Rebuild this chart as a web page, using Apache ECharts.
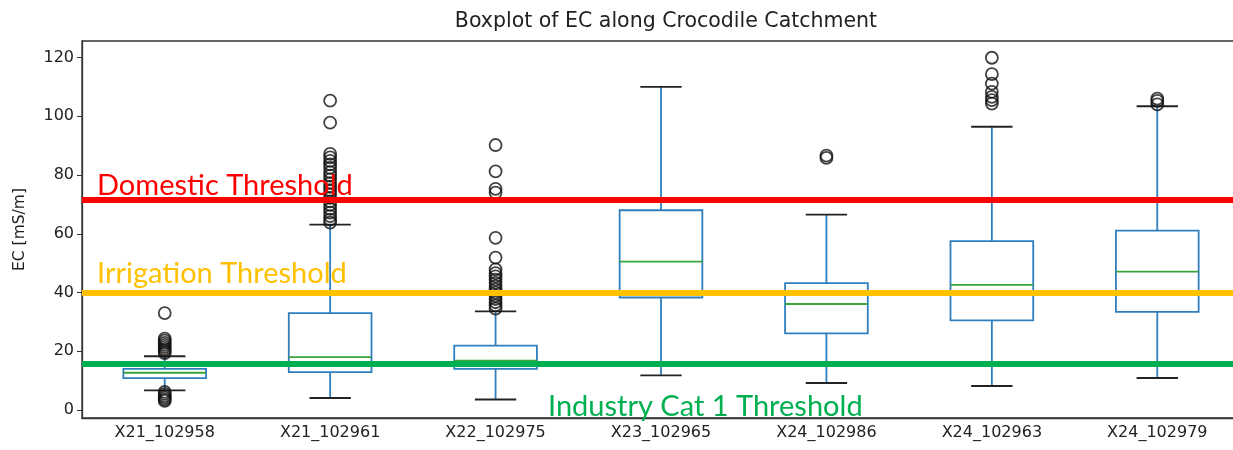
<!DOCTYPE html>
<html>
<head>
<meta charset="utf-8">
<script src="https://cdn.jsdelivr.net/npm/echarts@6/dist/echarts.min.js"></script>
<style>
  html, body { margin: 0; padding: 0; background: #fff; overflow: hidden; }
  /* the plot frame runs a few pixels past the right edge of the picture */
  #main { width: 1240px; height: 450px; }
</style>
</head>
<body>
<div id="main"></div>
<script>
// stations along the catchment
var categories = ['X21_102958', 'X21_102961', 'X22_102975', 'X23_102965', 'X24_102986', 'X24_102963', 'X24_102979'];

// box statistics (mS/m)
var whiskerLow  = [6.7,  4.1,  3.6,  11.8, 9.2,  8.2,  10.9];
var q1          = [10.9, 12.9, 14.0, 38.3, 26.1, 30.5, 33.4];
var median      = [12.7, 18.0, 16.8, 50.5, 36.1, 42.6, 47.1];
var q3          = [14.0, 33.0, 21.9, 68.0, 43.2, 57.5, 61.1];
var whiskerHigh = [18.3, 63.1, 33.6, 110.0, 66.5, 96.4, 103.4];

// fliers per station
var outliers = [
  [33.0, 24.3, 23.6, 22.9, 22.2, 21.5, 20.8, 20.1, 19.4, 6.2, 5.5, 4.8, 4.2, 3.6, 3.1],
  [105.3, 97.8, 87.2, 86.0, 84.8, 83.6, 82.4, 81.0, 79.8, 78.5, 77.2, 76.0, 74.8, 73.5, 72.2, 71.0, 69.8, 68.5, 67.2, 66.0, 64.8, 63.8],
  [90.2, 81.2, 75.3, 74.0, 58.6, 51.9, 47.9, 46.6, 45.5, 44.4, 43.3, 42.2, 41.1, 40.0, 38.9, 37.8, 36.7, 35.6, 34.5],
  [],
  [86.6, 85.8],
  [119.9, 114.3, 111.1, 108.3, 106.6, 105.5, 104.3],
  [106.0, 105.2, 104.0]
];

// threshold overlays
var thresholdNames  = ['Domestic Threshold', 'Irrigation Threshold', 'Industry Cat 1 Threshold'];
var thresholdValues = [71.6, 40.0, 15.7];
var thresholdColors = ['#FF0000', '#FFC000', '#00B050'];

var yTicks = [0, 20, 40, 60, 80, 100, 120];

var boxData = categories.map(function (c, i) {
  return [i, whiskerLow[i], q1[i], median[i], q3[i], whiskerHigh[i]];
});

var flierData = [];
outliers.forEach(function (list, i) {
  list.forEach(function (v) { flierData.push([i, v]); });
});

var blue = '#2f7fbf', green = '#3aa53a', dark = '#222';

function renderBox(params, api) {
  var idx = api.value(0);
  var band = api.size([1, 0])[0];
  var half = band * 0.25, capHalf = band * 0.125;
  var lo = api.coord([idx, api.value(1)]);
  var b1 = api.coord([idx, api.value(2)]);
  var md = api.coord([idx, api.value(3)]);
  var b3 = api.coord([idx, api.value(4)]);
  var hi = api.coord([idx, api.value(5)]);
  var x = lo[0];
  var blueStyle = { stroke: blue, lineWidth: 1.8, fill: null };
  var capStyle = { stroke: dark, lineWidth: 1.9 };
  return {
    type: 'group',
    children: [
      { type: 'line', shape: { x1: x, y1: b1[1], x2: x, y2: lo[1] }, style: blueStyle },
      { type: 'line', shape: { x1: x, y1: b3[1], x2: x, y2: hi[1] }, style: blueStyle },
      { type: 'rect', shape: { x: x - half, y: b3[1], width: half * 2, height: b1[1] - b3[1] }, style: blueStyle },
      { type: 'line', shape: { x1: x - half, y1: md[1], x2: x + half, y2: md[1] }, style: { stroke: green, lineWidth: 1.8 } },
      { type: 'line', shape: { x1: x - capHalf, y1: lo[1], x2: x + capHalf, y2: lo[1] }, style: capStyle },
      { type: 'line', shape: { x1: x - capHalf, y1: hi[1], x2: x + capHalf, y2: hi[1] }, style: capStyle }
    ]
  };
}

var chart = echarts.init(document.getElementById('main'), null, { renderer: 'canvas' });

var option = {
  animation: false,
  backgroundColor: '#fff',
  title: {
    text: 'Boxplot of EC along Crocodile Catchment',
    left: 661,
    textAlign: 'center',
    top: 6,
    textStyle: { fontFamily: 'DejaVu Sans', fontSize: 20.5, fontWeight: 'normal', color: dark }
  },
  grid: {
    left: 82, top: 41, bottom: 32, right: 0,
    show: true, borderColor: '#333', borderWidth: 1.3, backgroundColor: 'transparent'
  },
  xAxis: {
    type: 'category',
    data: categories,
    boundaryGap: true,
    axisLine: { onZero: false, lineStyle: { color: '#333', width: 1.3 } },
    axisTick: { alignWithLabel: true, length: 5, lineStyle: { color: '#333' } },
    axisLabel: { fontFamily: 'DejaVu Sans', fontSize: 16, color: dark, margin: 7 },
    splitLine: { show: false }
  },
  yAxis: {
    type: 'value',
    min: -2.7,
    max: 125.6,
    name: 'EC [mS/m]',
    nameLocation: 'middle',
    nameGap: 54,
    nameTextStyle: { fontFamily: 'DejaVu Sans', fontSize: 15.5, color: dark },
    axisLine: { show: true, onZero: false, lineStyle: { color: '#333', width: 1.3 } },
    axisTick: { show: true, length: 5, customValues: yTicks, lineStyle: { color: '#333' } },
    axisLabel: { fontFamily: 'DejaVu Sans', fontSize: 16, color: dark, margin: 8, customValues: yTicks },
    splitLine: { show: false }
  },
  graphic: [
    { type: 'text', left: 97, top: 171, z: 100, style: { text: thresholdNames[0], fill: thresholdColors[0], font: '29px Lato' } },
    { type: 'text', left: 97, top: 259, z: 100, style: { text: thresholdNames[1], fill: thresholdColors[1], font: '29px Lato' } },
    { type: 'text', left: 548, top: 392, z: 100, style: { text: thresholdNames[2], fill: thresholdColors[2], font: '29px Lato' } }
  ],
  series: [
    {
      type: 'custom',
      name: 'box',
      renderItem: renderBox,
      encode: { x: 0, y: [1, 2, 3, 4, 5] },
      data: boxData,
      z: 2
    },
    {
      type: 'scatter',
      name: 'fliers',
      data: flierData,
      symbol: 'circle',
      symbolSize: 12,
      itemStyle: { color: 'rgba(0,0,0,0)', borderColor: '#111', borderWidth: 1.8 },
      z: 3
    },
    {
      type: 'line',
      name: 'thresholds',
      data: [],
      z: 10,
      markLine: {
        silent: true,
        symbol: ['none', 'none'],
        label: { show: false },
        data: thresholdValues.map(function (v, i) {
          return { yAxis: v, lineStyle: { color: thresholdColors[i], width: 6, type: 'solid' } };
        })
      }
    }
  ]
};

chart.setOption(option);
</script>
</body>
</html>
